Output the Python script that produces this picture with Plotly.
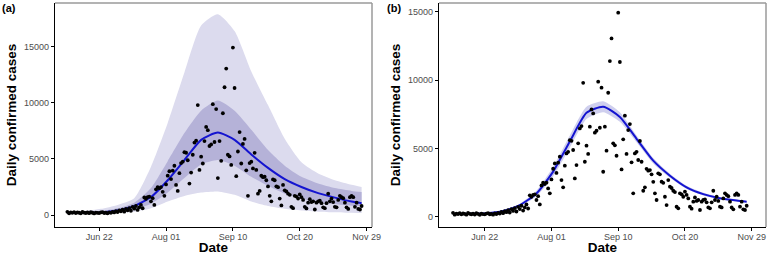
import pandas as pd
import plotly.graph_objects as go

# ---------------- data ----------------
obs_start = "2020-06-03"
daily_cases = [
    280, 150, 230, 190, 260, 170, 240, 200, 150, 270, 210, 180, 230, 160, 250, 200, 140, 220, 190, 170,
    230, 260, 180, 210, 150, 240, 190, 280, 230,
    350, 260, 400, 330, 480, 300, 550, 420, 620, 380, 720, 560, 800, 450, 680, 900, 600,
    1560, 1450, 1600, 1640, 1220, 1500, 900, 2290, 2490, 2390, 2490, 2070, 1710, 2730,
    3510, 3900, 3200, 3950, 4390, 2680, 2150, 3730, 4630, 4750, 5600, 5550, 4880, 2800, 3780,
    5370, 6460, 6630, 9800, 4020, 5200, 4590, 6590, 7850, 7560, 6150, 6290, 9880, 6510, 9440,
    3290, 6590, 4830, 9070, 11390, 13050, 5370, 5220, 4460, 14930, 11320, 3460, 5660, 7390, 4590,
    6340, 6780, 3980, 1710, 4630, 4750, 4150, 5540, 4020, 1900, 2150, 3500, 3370, 3410, 3100,
    2550, 1710, 1220, 3170, 3100, 2560, 2480, 1460, 850, 2680, 2200, 2100, 1900, 1800, 730,
    610, 1710, 1640, 1460, 1830, 1590, 1340, 730, 585, 1100, 1410, 1150, 1220, 490, 1100,
    1220, 1270, 1050, 680, 610, 1050, 1900, 1220, 1460, 1150, 730, 680, 1340, 1710, 1590,
    1500, 1100, 680, 540, 1590, 1710, 1590, 730, 1100, 540, 490, 800,
]
obs_dates = pd.date_range(obs_start, periods=len(daily_cases), freq="D")

model_dates = ["2020-06-03", "2020-06-13", "2020-06-23", "2020-07-03", "2020-07-13", "2020-07-23",
               "2020-08-02", "2020-08-12", "2020-08-22", "2020-09-01", "2020-09-11", "2020-09-21",
               "2020-10-01", "2020-10-11", "2020-10-21", "2020-10-31", "2020-11-10", "2020-11-20",
               "2020-11-26"]
# panel (a): stochastic model
outer_hi = [300, 350, 550, 900, 1500, 4300, 8200, 12700, 16900, 17900, 16400, 12800, 9800, 6800, 4700, 3700, 3100, 2700, 2500]
outer_lo = [100, 100, 120, 200, 300, 600, 1200, 1700, 2000, 2100, 1800, 1200, 800, 550, 400, 300, 250, 200, 180]
inner_hi = [250, 260, 350, 600, 1100, 2400, 4800, 7300, 9300, 10200, 9300, 7600, 5800, 4400, 3400, 2800, 2400, 2150, 2050]
inner_lo = [150, 150, 180, 280, 500, 1000, 2000, 3300, 4500, 4900, 4400, 3400, 2600, 1900, 1450, 1150, 950, 830, 800]
mean_a = [200, 190, 230, 400, 800, 1600, 3100, 4900, 6700, 7350, 6700, 5400, 4200, 3200, 2500, 1950, 1550, 1200, 1050]
# panel (b): deterministic fit
fit_b = [200, 210, 250, 420, 850, 1700, 3300, 5500, 7600, 8050, 7300, 5700, 4100, 3000, 2150, 1650, 1350, 1180, 1100]
fit_b_hi = [230, 240, 290, 480, 950, 1900, 3650, 5950, 8050, 8450, 7650, 5950, 4300, 3150, 2270, 1750, 1430, 1250, 1170]
fit_b_lo = [170, 180, 210, 360, 750, 1500, 2950, 5050, 7150, 7650, 6950, 5450, 3900, 2850, 2030, 1550, 1270, 1110, 1030]

tick_dates = ["2020-06-22", "2020-08-01", "2020-09-10", "2020-10-20", "2020-11-29"]
tick_text = ["Jun 22", "Aug 01", "Sep 10", "Oct 20", "Nov 29"]
y_ticks = [0, 5000, 10000, 15000]

# ---------------- styling ----------------
FONT = "Liberation Sans, Arial, sans-serif"
C_OUTER = "#dcdbee"
C_INNER = "#b5b2d8"
C_LINE = "#1414d0"
C_BAND_B = "#cfcfee"

fig = go.Figure()

def band(lo, hi, color, xa, ya):
    fig.add_trace(go.Scatter(x=model_dates, y=lo, mode="lines", line=dict(width=0, shape="spline", smoothing=0.6),
                             showlegend=False, hoverinfo="skip", xaxis=xa, yaxis=ya))
    fig.add_trace(go.Scatter(x=model_dates, y=hi, mode="lines", line=dict(width=0, shape="spline", smoothing=0.6),
                             fill="tonexty", fillcolor=color, showlegend=False, hoverinfo="skip", xaxis=xa, yaxis=ya))

# panel a
band(outer_lo, outer_hi, C_OUTER, "x", "y")
band(inner_lo, inner_hi, C_INNER, "x", "y")
fig.add_trace(go.Scatter(x=model_dates, y=mean_a, mode="lines", line=dict(color=C_LINE, width=2, shape="spline", smoothing=0.6),
                         showlegend=False, xaxis="x", yaxis="y"))
fig.add_trace(go.Scatter(x=obs_dates, y=daily_cases, mode="markers", marker=dict(color="black", size=3.8),
                         showlegend=False, xaxis="x", yaxis="y"))
# panel b
band(fit_b_lo, fit_b_hi, C_BAND_B, "x2", "y2")
fig.add_trace(go.Scatter(x=model_dates, y=fit_b, mode="lines", line=dict(color=C_LINE, width=2, shape="spline", smoothing=0.6),
                         showlegend=False, xaxis="x2", yaxis="y2"))
fig.add_trace(go.Scatter(x=obs_dates, y=daily_cases, mode="markers", marker=dict(color="black", size=3.8),
                         showlegend=False, xaxis="x2", yaxis="y2"))

W, H = 767, 255
ydom = [28 / H, 252 / H]
xdom_a = [55 / W, 372 / W]
xdom_b = [439 / W, 766 / W]

common_x = dict(type="date", showgrid=False, zeroline=False, showline=True, linecolor="black", linewidth=1.2,
                ticks="outside", ticklen=3, tickcolor="black", tickwidth=1, ticklabelstandoff=-2,
                tickvals=tick_dates, ticktext=tick_text,
                tickfont=dict(family=FONT, size=9, color="#4d4d4d"),
                title=dict(text="<b>Date</b>", font=dict(family=FONT, size=13.5, color="black"), standoff=3),
                automargin=False, fixedrange=True)
common_y = dict(showgrid=False, zeroline=False, showline=True, linecolor="black", linewidth=1.2,
                ticks="outside", ticklen=3, tickcolor="black", tickwidth=1,
                tickvals=y_ticks, ticktext=[str(v) for v in y_ticks],
                tickfont=dict(family=FONT, size=9, color="#4d4d4d"),
                title=dict(text="<b>Daily confirmed cases</b>", font=dict(family=FONT, size=13.5, color="black"), standoff=4),
                automargin=False, fixedrange=True)

fig.update_layout(
    width=W, height=H, margin=dict(l=0, r=0, t=0, b=0),
    paper_bgcolor="white", plot_bgcolor="white",
    xaxis=dict(common_x, domain=xdom_a, anchor="y", range=["2020-05-26 14:00", "2020-12-02 05:00"]),
    yaxis=dict(common_y, domain=ydom, anchor="x", range=[-1070, 18900]),
    xaxis2=dict(common_x, domain=xdom_b, anchor="y2", range=["2020-05-25 14:00", "2020-12-07 14:00"]),
    yaxis2=dict(common_y, domain=ydom, anchor="x2", range=[-755, 15640]),
    shapes=[
        dict(type="line", xref="x domain", yref="y domain", x0=0, x1=1, y0=1, y1=1, line=dict(color="#9a9a9a", width=1.5)),
        dict(type="line", xref="x domain", yref="y domain", x0=1, x1=1, y0=0, y1=1, line=dict(color="#9a9a9a", width=1.5)),
        dict(type="line", xref="x2 domain", yref="y2 domain", x0=0, x1=1, y0=1, y1=1, line=dict(color="#9a9a9a", width=1.5)),
        dict(type="line", xref="x2 domain", yref="y2 domain", x0=1, x1=1, y0=0, y1=1, line=dict(color="#9a9a9a", width=1.5)),
    ],
    annotations=[
        dict(text="<b>(a)</b>", xref="paper", yref="paper", x=0, y=1, xanchor="left", yanchor="top",
             showarrow=False, font=dict(family=FONT, size=11, color="black")),
        dict(text="<b>(b)</b>", xref="paper", yref="paper", x=385 / W, y=1, xanchor="left", yanchor="top",
             showarrow=False, font=dict(family=FONT, size=11, color="black")),
    ],
)

fig.write_html("out.html", config={"displayModeBar": False, "staticPlot": True},
               post_script="document.body.style.margin='0px';document.body.style.overflow='hidden';")
